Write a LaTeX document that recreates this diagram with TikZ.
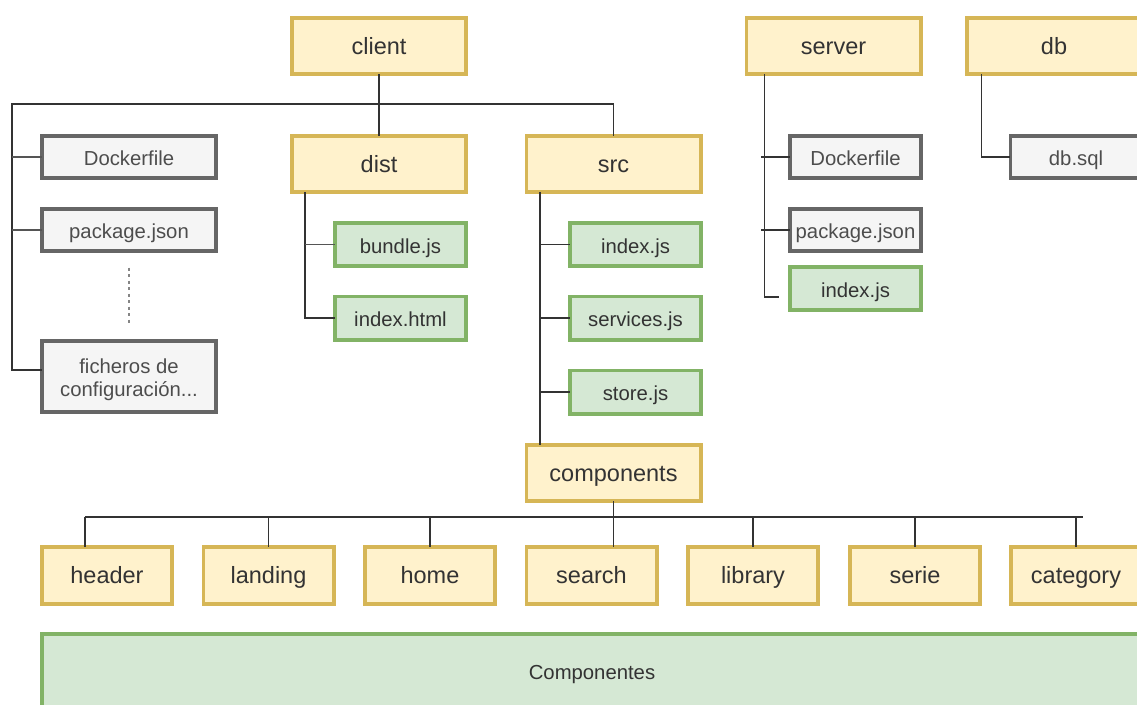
\documentclass[tikz,border=0pt]{standalone}
\usepackage{fontspec}
\setmainfont{Liberation Sans}
\usetikzlibrary{calc}
\definecolor{yelfill}{HTML}{FFF2CC}
\definecolor{yeldraw}{HTML}{D6B656}
\definecolor{grnfill}{HTML}{D5E8D4}
\definecolor{grndraw}{HTML}{82B366}
\definecolor{gryfill}{HTML}{F5F5F5}
\definecolor{grydraw}{HTML}{666666}
\definecolor{txt}{HTML}{333333}
\definecolor{grytxt}{HTML}{4D4D4D}
\definecolor{wire}{HTML}{333333}
\definecolor{stub}{HTML}{555555}
\tikzset{
  box/.style={rectangle, line width=3.8pt, inner sep=0pt, outer sep=0pt, align=center},
  folder/.style={box, draw=yeldraw, fill=yelfill, text=txt,
    font=\fontsize{23.5}{28}\selectfont, text height=21.6pt, text depth=5pt,
    minimum width=174.2pt, minimum height=56.2pt},
  folderS/.style={folder, minimum width=130.2pt, minimum height=57.2pt},
  srcfile/.style={box, draw=grndraw, fill=grnfill, text=txt,
    font=\fontsize{20.3}{23}\selectfont, text height=21.2pt, text depth=4pt,
    minimum width=131.2pt, minimum height=43.2pt},
  cfgfile/.style={box, draw=grydraw, fill=gryfill, text=grytxt,
    font=\fontsize{20.3}{23}\selectfont, text height=21.2pt, text depth=4pt,
    minimum height=42.2pt},
  cfgmulti/.style={box, draw=grydraw, fill=gryfill, text=grytxt,
    font=\fontsize{20.3}{23}\selectfont},
  wireline/.style={draw=wire, line width=1.5pt},
  stubline/.style={draw=stub, line width=1.5pt},
}
\begin{document}
\begin{tikzpicture}[x=1pt,y=-1pt]
\useasboundingbox (0,0) rectangle (1137,704);
\clip (0,0) rectangle (1137,704);

% top-level folders
\node[folder] (client) at (379,46) {client};
\node[folder] (server) at (833.5,46) {server};
\node[folder] (db) at (1054,46) {db};

% client contents
\node[cfgfile, minimum width=174.2pt] (cdock) at (129,157) {Dockerfile};
\node[cfgfile, minimum width=174.2pt] (cpkg) at (129,230) {package.json};
\node[cfgmulti, minimum width=174.2pt, minimum height=71.2pt] (cfg) at (129,376.5)
  {\rule{0pt}{21pt}ficheros de\\configuración...};
\node[folder] (dist) at (379,164) {dist};
\node[srcfile] (bundle) at (400.5,244.5) {bundle.js};
\node[srcfile] (ihtml) at (400.5,318) {index.html};
\node[folder] (src) at (613.5,164) {src};
\node[srcfile] (cidx) at (635.5,244.5) {index.js};
\node[srcfile] (svc) at (635.5,318) {services.js};
\node[srcfile] (store) at (635.5,392) {store.js};
\node[folder] (comps) at (613.5,473) {components};

% server contents
\node[cfgfile, minimum width=131.2pt] (sdock) at (855.5,157) {Dockerfile};
\node[cfgfile, minimum width=131.2pt] (spkg) at (855.5,230) {package.json};
\node[srcfile] (sidx) at (855.5,288.5) {index.js};

% db contents
\node[cfgfile, minimum width=131.2pt] (dbsql) at (1076,157) {db.sql};

% components
\node[folderS] (header) at (107,575.5) {header};
\node[folderS] (landing) at (268.5,575.5) {landing};
\node[folderS] (home) at (430,575.5) {home};
\node[folderS] (search) at (591.5,575.5) {search};
\node[folderS] (library) at (753,575.5) {library};
\node[folderS] (serie) at (915,575.5) {serie};
\node[folderS] (category) at (1076,575.5) {category};

\node[srcfile, minimum width=1100.2pt, minimum height=74.2pt, text height=20pt]
  (allcomps) at (592,671) {Componentes};

% ellipsis between client files
\coordinate (dtop) at ($(cpkg.south)+(0,16.5)$);
\coordinate (dbot) at ($(cfg.north)+(0,-15)$);
\draw[draw=grydraw!80, line width=2.5pt, dash pattern=on 3pt off 3.5pt] (dtop) -- (dbot);

% client tree
\coordinate (trunk) at (12,104);
\draw[wireline] (client.south) -- (dist.north);
\draw[wireline] (src.north) |- (trunk) |- ([yshift=6.5pt]cfg.west);
\draw[stubline] (trunk |- cdock.west) -- (cdock.west);
\draw[stubline] (trunk |- cpkg.west) -- (cpkg.west);

% dist tree
\coordinate (dl) at ([xshift=13pt]dist.south west);
\draw[wireline] (dl) |- (ihtml.west);
\draw[stubline] (dl |- bundle.west) -- (bundle.west);

% src tree
\coordinate (sl) at ([xshift=13.5pt]src.south west);
\draw[wireline] (sl) -- (sl |- comps.north);
\draw[wireline] (sl |- cidx.west) -- (cidx.west);
\draw[wireline] (sl |- svc.west) -- (svc.west);
\draw[wireline] (sl |- store.west) -- (store.west);

% server tree
\coordinate (svl) at ([xshift=18pt]server.south west);
\coordinate (svend) at ([xshift=-11pt,yshift=-8.5pt]sidx.west);
\draw[wireline] (svl) |- (svend);
\draw[wireline] ([xshift=-3pt]svl |- sdock.west) -- (sdock.west);
\draw[wireline] ([xshift=-3pt]svl |- spkg.west) -- (spkg.west);

% db tree
\coordinate (dbl) at ([xshift=14.5pt]db.south west);
\draw[wireline] (dbl) |- (dbsql.west);

% components bus
\coordinate (busL) at (85,517);
\coordinate (busR) at (1083,517);
\draw[wireline] (comps.south) -- (comps.south |- search.north);
\draw[wireline] (busL) -- (busR);
\draw[wireline] (busL) -- (busL |- header.north);
\draw[wireline] (landing.north) -- (landing.north |- busL);
\draw[wireline] (home.north) -- (home.north |- busL);
\draw[wireline] (library.north) -- (library.north |- busL);
\draw[wireline] (serie.north) -- (serie.north |- busL);
\draw[wireline] (category.north) -- (category.north |- busL);
\end{tikzpicture}
\end{document}
